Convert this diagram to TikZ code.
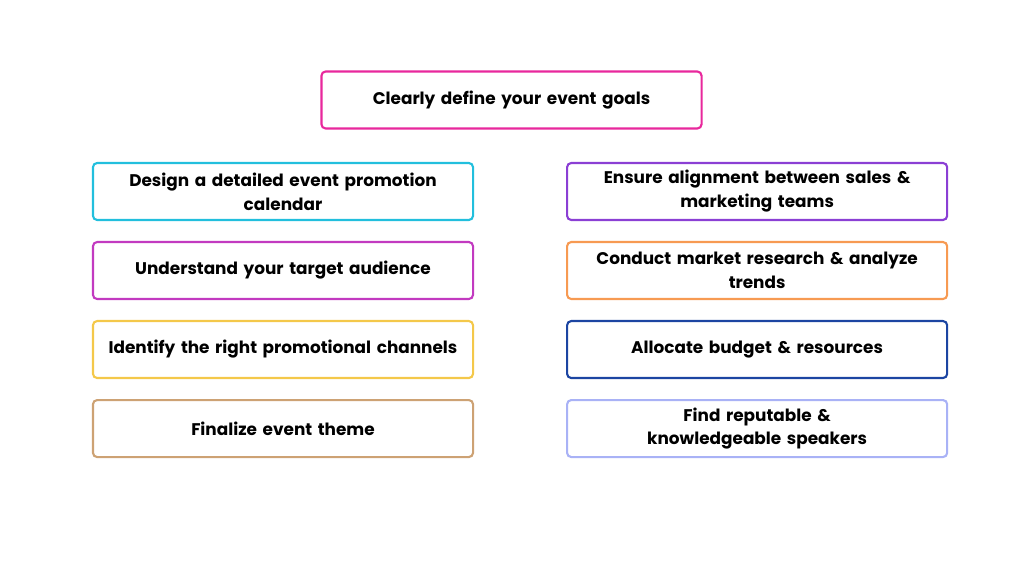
\documentclass[tikz,border=0pt]{standalone}
\usepackage{fontspec}
\setmainfont{Poppins}
\usetikzlibrary{positioning}
\definecolor{goalc}{HTML}{E8289C}
\definecolor{calc}{HTML}{22BFDD}
\definecolor{audc}{HTML}{C23AC0}
\definecolor{chanc}{HTML}{F4C84A}
\definecolor{themec}{HTML}{CDA274}
\definecolor{alignc}{HTML}{8B3FD4}
\definecolor{resc}{HTML}{F79A52}
\definecolor{budc}{HTML}{1C45A2}
\definecolor{spkc}{HTML}{A9B2F6}

\begin{document}
\begin{tikzpicture}[x=0.025cm, y=-0.025cm, node distance=1.975cm and 11.85cm, on grid]
    \tikzset{box/.style={draw, line width=1.5pt, rounded corners=3pt, minimum width=9.5cm,
        minimum height=1.425cm, align=center, text width=9.2cm, font=\fontsize{12}{17}\selectfont\bfseries}}
    \useasboundingbox (0,0) rectangle (1024,576);
    % top goal box
    \node[box, draw=goalc] (goal) at (511.5,100) {Clearly define your event goals};
    % left column
    \node[box, draw=calc] (calendar) at (283,191.5) {Design a detailed event promotion\\calendar};
    \node[box, draw=audc] (audience) [below=of calendar] {Understand your target audience};
    \node[box, draw=chanc] (channels) [below=of audience] {Identify the right promotional channels};
    \node[box, draw=themec] (theme) [below=of channels] {Finalize event theme};
    % right column
    \node[box, draw=alignc] (align) [right=of calendar] {Ensure alignment between sales \&\\marketing teams};
    \node[box, draw=resc] (research) [below=of align] {Conduct market research \& analyze\\trends};
    \node[box, draw=budc] (budget) [below=of research] {Allocate budget \& resources};
    \node[box, draw=spkc] (speakers) [below=of budget] {Find reputable \&\\knowledgeable speakers};
\end{tikzpicture}
\end{document}
